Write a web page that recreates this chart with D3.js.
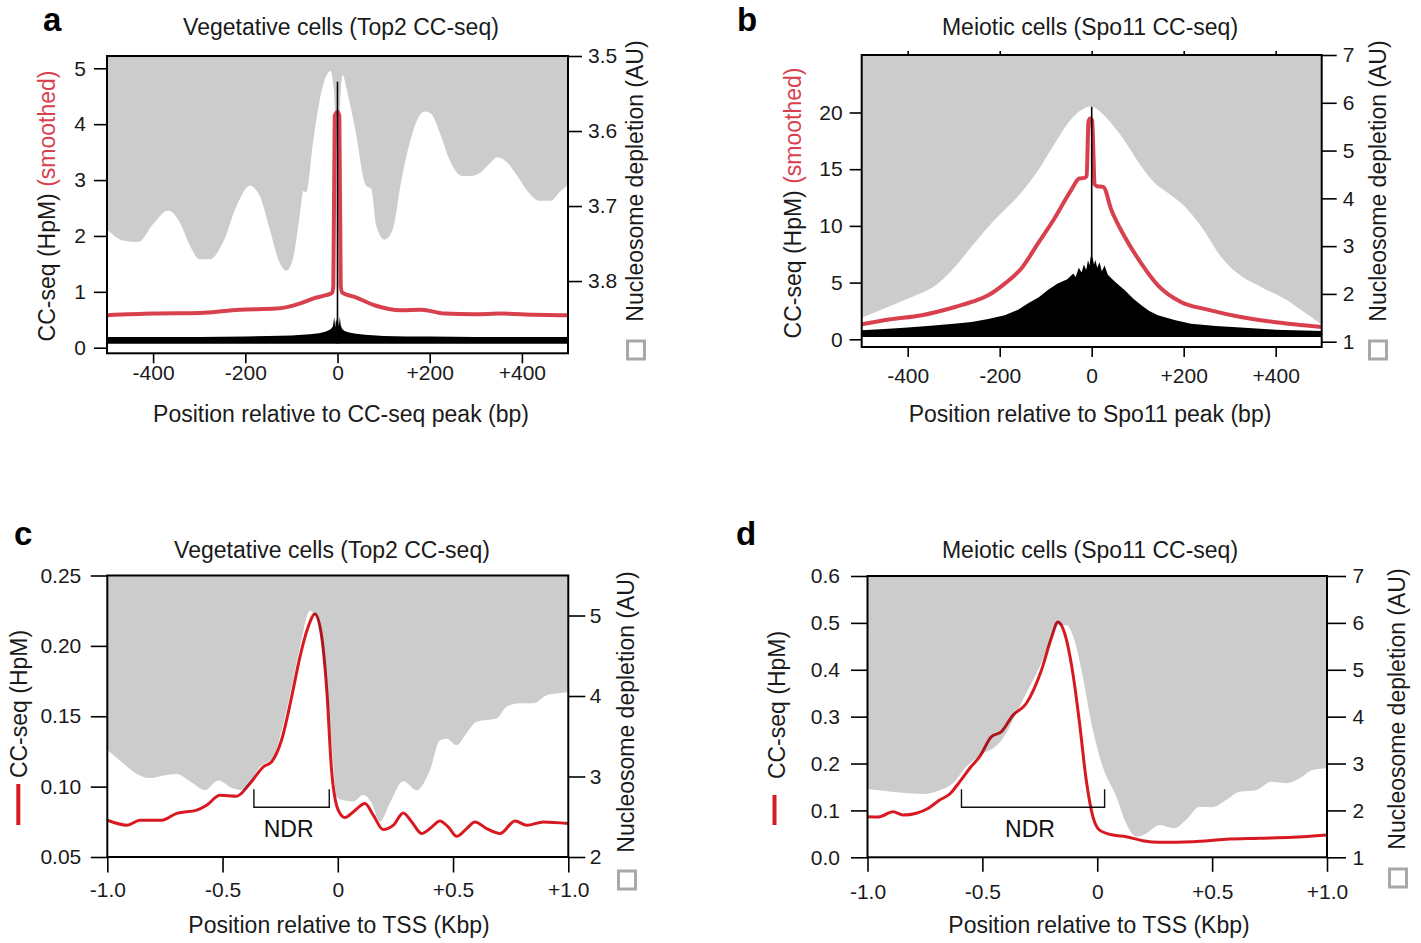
<!DOCTYPE html>
<html><head><meta charset="utf-8">
<script src="https://cdn.jsdelivr.net/npm/d3@7"></script>
<style>
body{margin:0;background:#fff;}
svg{display:block;font-family:"Liberation Sans",Arial,Helvetica,sans-serif;}
</style></head><body>
<svg id="chart" width="1421" height="943"></svg>
<script>
// ---------- Panel a: vegetative cells, around Top2 CC-seq peaks (bp) ----------
const aNucX = [-500,-465,-432,-400,-367,-342,-320,-299,-277,-248,-219,-190,-169,-147,-126,-111,-97,-82,-74,-68,-53,-35,-15,-8,0,6,11,20,37,62,73,84,102,120,138,163,188,203,224,242,271,289,311,329,347,368,390,412,437,462,484,500];
const aNucV = [3.731,3.746,3.748,3.724,3.706,3.722,3.753,3.771,3.771,3.748,3.700,3.673,3.686,3.731,3.775,3.786,3.771,3.713,3.680,3.682,3.615,3.548,3.520,3.545,3.630,3.560,3.525,3.545,3.593,3.673,3.677,3.726,3.745,3.731,3.668,3.602,3.574,3.577,3.606,3.637,3.660,3.660,3.655,3.644,3.635,3.642,3.660,3.680,3.693,3.693,3.680,3.672];
const aRedX = [-500,-400,-300,-212,-133,-82,-53,-25,-12,-9,-6,0,4,7,11,37,80,138,182,232,297,355,427,500];
const aRedV = [0.58,0.61,0.62,0.68,0.70,0.79,0.88,0.94,0.98,1.1,4.15,4.22,4.15,1.1,0.98,0.91,0.76,0.67,0.68,0.61,0.60,0.61,0.59,0.58];
const aRawX = [-500,-400,-300,-200,-150,-100,-60,-40,-25,-15,-10,-7,-5,-3,-1,1,3,5,7,10,15,25,40,60,100,150,200,300,400,500];
const aRawHi = [0.19,0.19,0.19,0.2,0.21,0.22,0.24,0.26,0.29,0.33,0.38,0.55,0.36,0.52,0.45,0.5,0.38,0.56,0.4,0.34,0.3,0.27,0.25,0.23,0.21,0.2,0.2,0.19,0.19,0.19];
const aRawLo = [0.07,0.07,0.07,0.07,0.07,0.07,0.07,0.07,0.07,0.07,0.07,0.07,0.07,0.07,0.07,0.07,0.07,0.07,0.07,0.07,0.07,0.07,0.07,0.07,0.07,0.07,0.07,0.07,0.07,0.07];
const aSpike = 4.76;
const aXTicks = [-400,-200,0,200,400];
const aYTicks = [0,1,2,3,4,5];
const aRTicks = [3.5,3.6,3.7,3.8];

// ---------- Panel b: meiotic cells, around Spo11 CC-seq peaks (bp) ----------
const bNucX = [-500,-441,-398,-334,-297,-261,-211,-154,-118,-82,-46,-17,-3,4,22,51,80,108,137,166,202,238,281,317,367,425,460,491,500];
const bNucV = [1.50,1.735,1.91,2.22,2.57,2.99,3.55,4.11,4.56,5.12,5.64,5.88,5.92,5.91,5.78,5.47,5.08,4.66,4.32,4.11,3.83,3.41,2.78,2.43,2.15,1.87,1.63,1.42,1.36];
const bRedX = [-500,-441,-369,-297,-261,-225,-189,-153,-117,-81,-45,-27,-16,-11,-7,-3,1,4,6,12,25,43,72,108,144,194,252,324,396,500];
const bRedV = [1.32,1.74,2.12,2.85,3.29,3.88,4.91,6.24,8.44,10.65,13.14,14.18,14.23,14.4,19.2,19.47,19.3,16.0,13.7,13.5,13.44,11.38,9.02,6.68,4.76,3.29,2.62,1.97,1.53,1.09];
const bRawX = [-500,-450,-400,-350,-300,-261,-225,-189,-160,-139,-115,-96,-75,-53,-40,-35,-28,-22,-17,-12,-8,-5,-2,2,5,8,12,17,22,28,35,50,72,90,108,125,144,180,216,270,324,400,500];
const bRawHi = [0.79,0.9,1.05,1.2,1.38,1.53,1.8,2.12,2.6,3.15,3.7,4.32,4.9,5.3,5.8,5.5,6.3,5.9,6.6,6.1,7.0,6.5,7.3,7.2,6.6,7.0,6.3,6.8,6.0,6.5,5.7,5.1,4.32,3.6,3.0,2.5,2.12,1.7,1.38,1.18,1.03,0.85,0.73];
const bRawLo = [0.2,0.2,0.2,0.2,0.2,0.2,0.2,0.2,0.2,0.2,0.2,0.2,0.2,0.2,0.2,0.2,0.2,0.2,0.2,0.2,0.2,0.2,0.2,0.2,0.2,0.2,0.2,0.2,0.2,0.2,0.2,0.2,0.2,0.2,0.2,0.2,0.2,0.2,0.2,0.2,0.2,0.2,0.2];
const bSpike = 20.5;
const bXTicks = [-400,-200,0,200,400];
const bYTicks = [0,5,10,15,20];
const bRTicks = [1,2,3,4,5,6,7];

// ---------- Panel c: vegetative cells, around TSS (Kbp) ----------
const cNucX = [-1.0,-0.945,-0.887,-0.815,-0.743,-0.699,-0.641,-0.576,-0.519,-0.454,-0.41,-0.338,-0.28,-0.222,-0.164,-0.121,-0.092,-0.056,-0.027,-0.005,0.017,0.067,0.11,0.147,0.183,0.226,0.284,0.342,0.4,0.443,0.472,0.516,0.559,0.602,0.689,0.733,0.791,0.848,0.906,0.95,1.0];
const cNucV = [3.33,3.20,3.06,2.98,3.02,3.03,2.94,2.83,2.95,2.85,2.83,3.12,3.25,3.83,4.61,5.06,4.94,4.32,3.41,2.75,2.71,2.69,2.77,2.67,2.44,2.67,2.94,2.83,3.08,3.45,3.47,3.39,3.54,3.68,3.72,3.87,3.91,3.91,4.01,4.03,4.05];
const cRedX = [-1.0,-0.915,-0.858,-0.764,-0.699,-0.612,-0.569,-0.511,-0.439,-0.381,-0.323,-0.287,-0.244,-0.2,-0.164,-0.128,-0.099,-0.07,-0.048,-0.027,0.002,0.031,0.067,0.118,0.154,0.197,0.241,0.284,0.321,0.364,0.4,0.443,0.479,0.516,0.559,0.595,0.646,0.704,0.769,0.82,0.892,1.0];
const cRedV = [0.0761,0.0726,0.0761,0.0761,0.081,0.0833,0.0868,0.0939,0.0932,0.1023,0.1141,0.1177,0.1331,0.164,0.1924,0.2138,0.2226,0.2067,0.1687,0.1118,0.0833,0.078,0.082,0.088,0.0797,0.0695,0.0726,0.0813,0.0749,0.0667,0.0702,0.0756,0.0714,0.0647,0.0702,0.0749,0.0702,0.0667,0.0756,0.0726,0.0749,0.0738];
const cNdr = [-0.364,-0.037];
const cXTicks = [-1,-0.5,0,0.5,1];
const cYTicks = [0.05,0.10,0.15,0.20,0.25];
const cRTicks = [2,3,4,5];

// ---------- Panel d: meiotic cells, around TSS (Kbp) ----------
const dNucX = [-1.0,-0.947,-0.86,-0.758,-0.686,-0.628,-0.57,-0.497,-0.454,-0.41,-0.352,-0.309,-0.265,-0.222,-0.171,-0.135,-0.099,-0.063,-0.019,0.024,0.083,0.126,0.17,0.213,0.271,0.336,0.387,0.445,0.503,0.561,0.619,0.691,0.757,0.822,0.88,0.937,1.0];
const dNucV = [2.45,2.43,2.38,2.35,2.43,2.58,2.93,3.22,3.32,3.54,4.07,4.50,4.92,5.38,5.95,5.95,5.63,4.85,3.71,2.93,2.29,1.72,1.44,1.51,1.69,1.62,1.80,2.08,2.07,2.22,2.40,2.43,2.61,2.58,2.68,2.86,2.90];
const dRedX = [-1.0,-0.952,-0.889,-0.845,-0.787,-0.737,-0.686,-0.642,-0.599,-0.555,-0.512,-0.461,-0.417,-0.367,-0.309,-0.243,-0.2,-0.171,-0.142,-0.106,-0.077,-0.048,-0.019,0.01,0.068,0.126,0.198,0.271,0.416,0.561,0.706,0.85,1.0];
const dRedV = [0.0866,0.086,0.097,0.090,0.094,0.104,0.122,0.135,0.161,0.19,0.2145,0.257,0.268,0.303,0.328,0.399,0.467,0.502,0.478,0.392,0.286,0.165,0.0866,0.058,0.0476,0.044,0.0354,0.032,0.0333,0.0384,0.0405,0.0426,0.0475];
const dNdr = [-0.591,0.032];
const dXTicks = [-1,-0.5,0,0.5,1];
const dYTicks = [0,0.1,0.2,0.3,0.4,0.5,0.6];
const dRTicks = [1,2,3,4,5,6,7];

// ---------- drawing ----------
const svg = d3.select("#chart");
const GRAY = "#cccccc", RED_AB = "#d8404e", RED_CD = "#d71a21", LEG_GRAY = "#a8a8a8";
const TICK_FS = 21, LAB_FS = 23;
const fmtBp = d => d > 0 ? "+" + d : String(d);
const fmtKbp = d => d === 0 ? "0" : (d > 0 ? "+" : "") + d.toFixed(1);
const zip = (xs, ys) => xs.map((v, i) => [v, ys[i]]);

function styleAxis(g){
  g.select(".domain").remove();
  g.selectAll(".tick line").attr("stroke","#000").attr("stroke-width",1.6);
  g.selectAll(".tick text").attr("fill","#1a1a1a").attr("font-size",TICK_FS);
}

function panel(c){
  const g = svg.append("g");
  const x = d3.scaleLinear().domain(c.xDomain).range([c.left, c.right]);
  const yl = d3.scaleLinear().domain(c.ylDomain).range([c.bottom, c.top]);
  const yr = d3.scaleLinear().domain(c.yrDomain).range(c.yrRange);
  const clipId = "clip" + c.id;
  svg.append("clipPath").attr("id", clipId).append("rect")
    .attr("x", c.left).attr("y", c.top).attr("width", c.right - c.left).attr("height", c.bottom - c.top);
  const plot = g.append("g").attr("clip-path", `url(#${clipId})`);

  // nucleosome occupancy: gray region above the depletion curve
  plot.append("path").datum(zip(c.nucX, c.nucV))
    .attr("fill", GRAY)
    .attr("d", d3.area().x(d => x(d[0])).y0(c.top - 2).y1(d => yr(d[1])).curve(d3.curveMonotoneX));

  // raw CC-seq signal
  if (c.rawX){
    const raw = c.rawX.map((v,i)=>({x:v, lo:c.rawLo[i], hi:c.rawHi[i]}));
    plot.append("path").datum(raw).attr("fill","#000")
      .attr("d", d3.area().x(d=>x(d.x)).y0(d=>yl(d.lo)).y1(d=>yl(d.hi)).curve(d3.curveLinear));
  }

  // smoothed CC-seq
  const red = plot.append("path").datum(zip(c.redX, c.redV))
    .attr("fill","none").attr("stroke", c.redColor).attr("stroke-width", c.redWidth)
    .attr("stroke-linejoin","round")
    .attr("d", d3.line().x(d => x(d[0])).y(d => yl(d[1])).curve(d3.curveMonotoneX));
  if (c.multiply) red.style("mix-blend-mode","multiply");

  if (c.spike !== undefined){
    plot.append("line").attr("x1", x(0)).attr("x2", x(0))
      .attr("y1", yl(c.rawLo[0])).attr("y2", yl(c.spike))
      .attr("stroke","#000").attr("stroke-width",1.6);
  }

  // NDR bracket
  if (c.ndr){
    const yt = c.ndrTop, yb = c.ndrTop + 18;
    g.append("path").attr("fill","none").attr("stroke","#111").attr("stroke-width",1.4)
      .attr("d", `M${x(c.ndr[0])},${yt}V${yb}H${x(c.ndr[1])}V${yt}`);
    g.append("text").attr("x", (x(c.ndr[0]) + x(c.ndr[1]))/2 - 3).attr("y", yb + 29.5)
      .attr("text-anchor","middle").attr("font-size", LAB_FS).attr("fill","#111").text("NDR");
  }

  // frame
  g.append("rect").attr("x", c.left).attr("y", c.top)
    .attr("width", c.right - c.left).attr("height", c.bottom - c.top)
    .attr("fill","none").attr("stroke","#000").attr("stroke-width",2);

  // axes
  g.append("g").attr("transform",`translate(${c.left},0)`)
    .call(d3.axisLeft(yl).tickValues(c.yTicks).tickFormat(c.yFmt).tickSize(c.lTick).tickPadding(c.lPad))
    .call(styleAxis);
  g.append("g").attr("transform",`translate(${c.right},0)`)
    .call(d3.axisRight(yr).tickValues(c.rTicks).tickFormat(c.rFmt).tickSize(c.rTick).tickPadding(c.rPad))
    .call(styleAxis);
  g.append("g").attr("transform",`translate(0,${c.bottom})`)
    .call(d3.axisBottom(x).tickValues(c.xTicks).tickFormat(c.xFmt).tickSize(c.bTick).tickPadding(c.bPad))
    .call(styleAxis);
  if (c.topTicks){
    g.append("g").attr("transform",`translate(0,${c.top})`)
      .call(d3.axisTop(x).tickValues(c.xTicks).tickFormat("").tickSize(4))
      .call(styleAxis);
  }

  // texts
  g.append("text").attr("x", c.letterX).attr("y", c.letterY).attr("font-size",33)
    .attr("font-weight","bold").attr("fill","#000").text(c.letter);
  g.append("text").attr("x", c.titleX).attr("y", c.titleY).attr("text-anchor","middle")
    .attr("font-size", LAB_FS).attr("fill","#1a1a1a").text(c.title);
  g.append("text").attr("x", c.xLabX).attr("y", c.xLabY).attr("text-anchor","middle")
    .attr("font-size", LAB_FS).attr("fill","#1a1a1a").text(c.xLabel);
  const lt = g.append("text").attr("transform",`translate(${c.lLabX},${c.lLabY}) rotate(-90)`)
    .attr("text-anchor","middle").attr("font-size", LAB_FS).attr("fill","#1a1a1a");
  lt.append("tspan").text("CC-seq (HpM)");
  if (c.smoothed) lt.append("tspan").attr("fill", RED_AB).text(" (smoothed)");
  g.append("text").attr("transform",`translate(${c.rLabX},${c.rLabY}) rotate(-90)`)
    .attr("text-anchor","middle").attr("font-size", LAB_FS).attr("fill","#1a1a1a")
    .text("Nucleosome depletion (AU)");
  // legend keys
  g.append("rect").attr("x", c.sqX - 8.5).attr("y", c.sqY - 9).attr("width",17).attr("height",18)
    .attr("fill","#fff").attr("stroke", LEG_GRAY).attr("stroke-width",3);
  if (c.redKey){
    g.append("line").attr("x1", c.redKey[0]).attr("x2", c.redKey[0])
      .attr("y1", c.redKey[1]).attr("y2", c.redKey[2])
      .attr("stroke", RED_CD).attr("stroke-width",4);
  }
}

panel({id:"a", letter:"a", letterX:43, letterY:31,
  left:107, right:568, top:56, bottom:353.3,
  xDomain:[-500,500], ylDomain:[-0.1,5.22], yrDomain:[3.5,3.8963], yrRange:[56,353.3],
  nucX:aNucX, nucV:aNucV, redX:aRedX, redV:aRedV, rawX:aRawX, rawHi:aRawHi, rawLo:aRawLo, spike:aSpike,
  redColor:RED_AB, redWidth:4,
  xTicks:aXTicks, yTicks:aYTicks, rTicks:aRTicks, xFmt:fmtBp, yFmt:d3.format("d"), rFmt:d3.format(".1f"),
  lTick:13, lPad:8, rTick:14, rPad:6, bTick:10, bPad:2,
  title:"Vegetative cells (Top2 CC-seq)", titleX:341, titleY:35,
  xLabel:"Position relative to CC-seq peak (bp)", xLabX:341, xLabY:422,
  lLabX:55, lLabY:206, smoothed:true, rLabX:643, rLabY:181, sqX:636, sqY:350});

panel({id:"b", letter:"b", letterX:737, letterY:31,
  left:861.7, right:1321.7, top:55, bottom:347,
  xDomain:[-500,500], ylDomain:[-0.68,25.07], yrDomain:[0.889,7], yrRange:[347,55],
  nucX:bNucX, nucV:bNucV, redX:bRedX, redV:bRedV, rawX:bRawX, rawHi:bRawHi, rawLo:bRawLo, spike:bSpike,
  redColor:RED_AB, redWidth:4, topTicks:true,
  xTicks:bXTicks, yTicks:bYTicks, rTicks:bRTicks, xFmt:fmtBp, yFmt:d3.format("d"), rFmt:d3.format("d"),
  lTick:12, lPad:7, rTick:15, rPad:6, bTick:10, bPad:11,
  title:"Meiotic cells (Spo11 CC-seq)", titleX:1090, titleY:35,
  xLabel:"Position relative to Spo11 peak (bp)", xLabX:1090, xLabY:422,
  lLabX:801, lLabY:203, smoothed:true, rLabX:1386, rLabY:181, sqX:1378, sqY:350});

panel({id:"c", letter:"c", letterX:14, letterY:545,
  left:107.3, right:568.3, top:575.5, bottom:857,
  xDomain:[-1,1], ylDomain:[0.05,0.25], yrDomain:[2,5.497], yrRange:[857,575.5],
  nucX:cNucX, nucV:cNucV, redX:cRedX, redV:cRedV,
  redColor:RED_CD, redWidth:3, multiply:true, ndr:cNdr, ndrTop:789.3,
  xTicks:cXTicks, yTicks:cYTicks, rTicks:cRTicks, xFmt:fmtKbp, yFmt:d3.format(".2f"), rFmt:d3.format("d"),
  lTick:16.5, lPad:9.5, rTick:17, rPad:4.5, bTick:15.5, bPad:10,
  title:"Vegetative cells (Top2 CC-seq)", titleX:332, titleY:558,
  xLabel:"Position relative to TSS (Kbp)", xLabX:339, xLabY:933,
  lLabX:27, lLabY:704, smoothed:false, rLabX:634, rLabY:712, sqX:627, sqY:880,
  redKey:[18.3,784,825]});

panel({id:"d", letter:"d", letterX:736, letterY:545,
  left:867.5, right:1327, top:576, bottom:857.3,
  xDomain:[-1,1], ylDomain:[0,0.6], yrDomain:[1,7], yrRange:[857.3,576],
  nucX:dNucX, nucV:dNucV, redX:dRedX, redV:dRedV,
  redColor:RED_CD, redWidth:3, multiply:true, ndr:dNdr, ndrTop:789.3,
  xTicks:dXTicks, yTicks:dYTicks, rTicks:dRTicks, xFmt:fmtKbp, yFmt:d3.format(".1f"), rFmt:d3.format("d"),
  lTick:16.5, lPad:11, rTick:19, rPad:6.5, bTick:14.5, bPad:12,
  title:"Meiotic cells (Spo11 CC-seq)", titleX:1090, titleY:558,
  xLabel:"Position relative to TSS (Kbp)", xLabX:1099, xLabY:933,
  lLabX:785, lLabY:705, smoothed:false, rLabX:1405, rLabY:709, sqX:1398, sqY:878,
  redKey:[774.5,795,825]});
</script>
</body></html>
